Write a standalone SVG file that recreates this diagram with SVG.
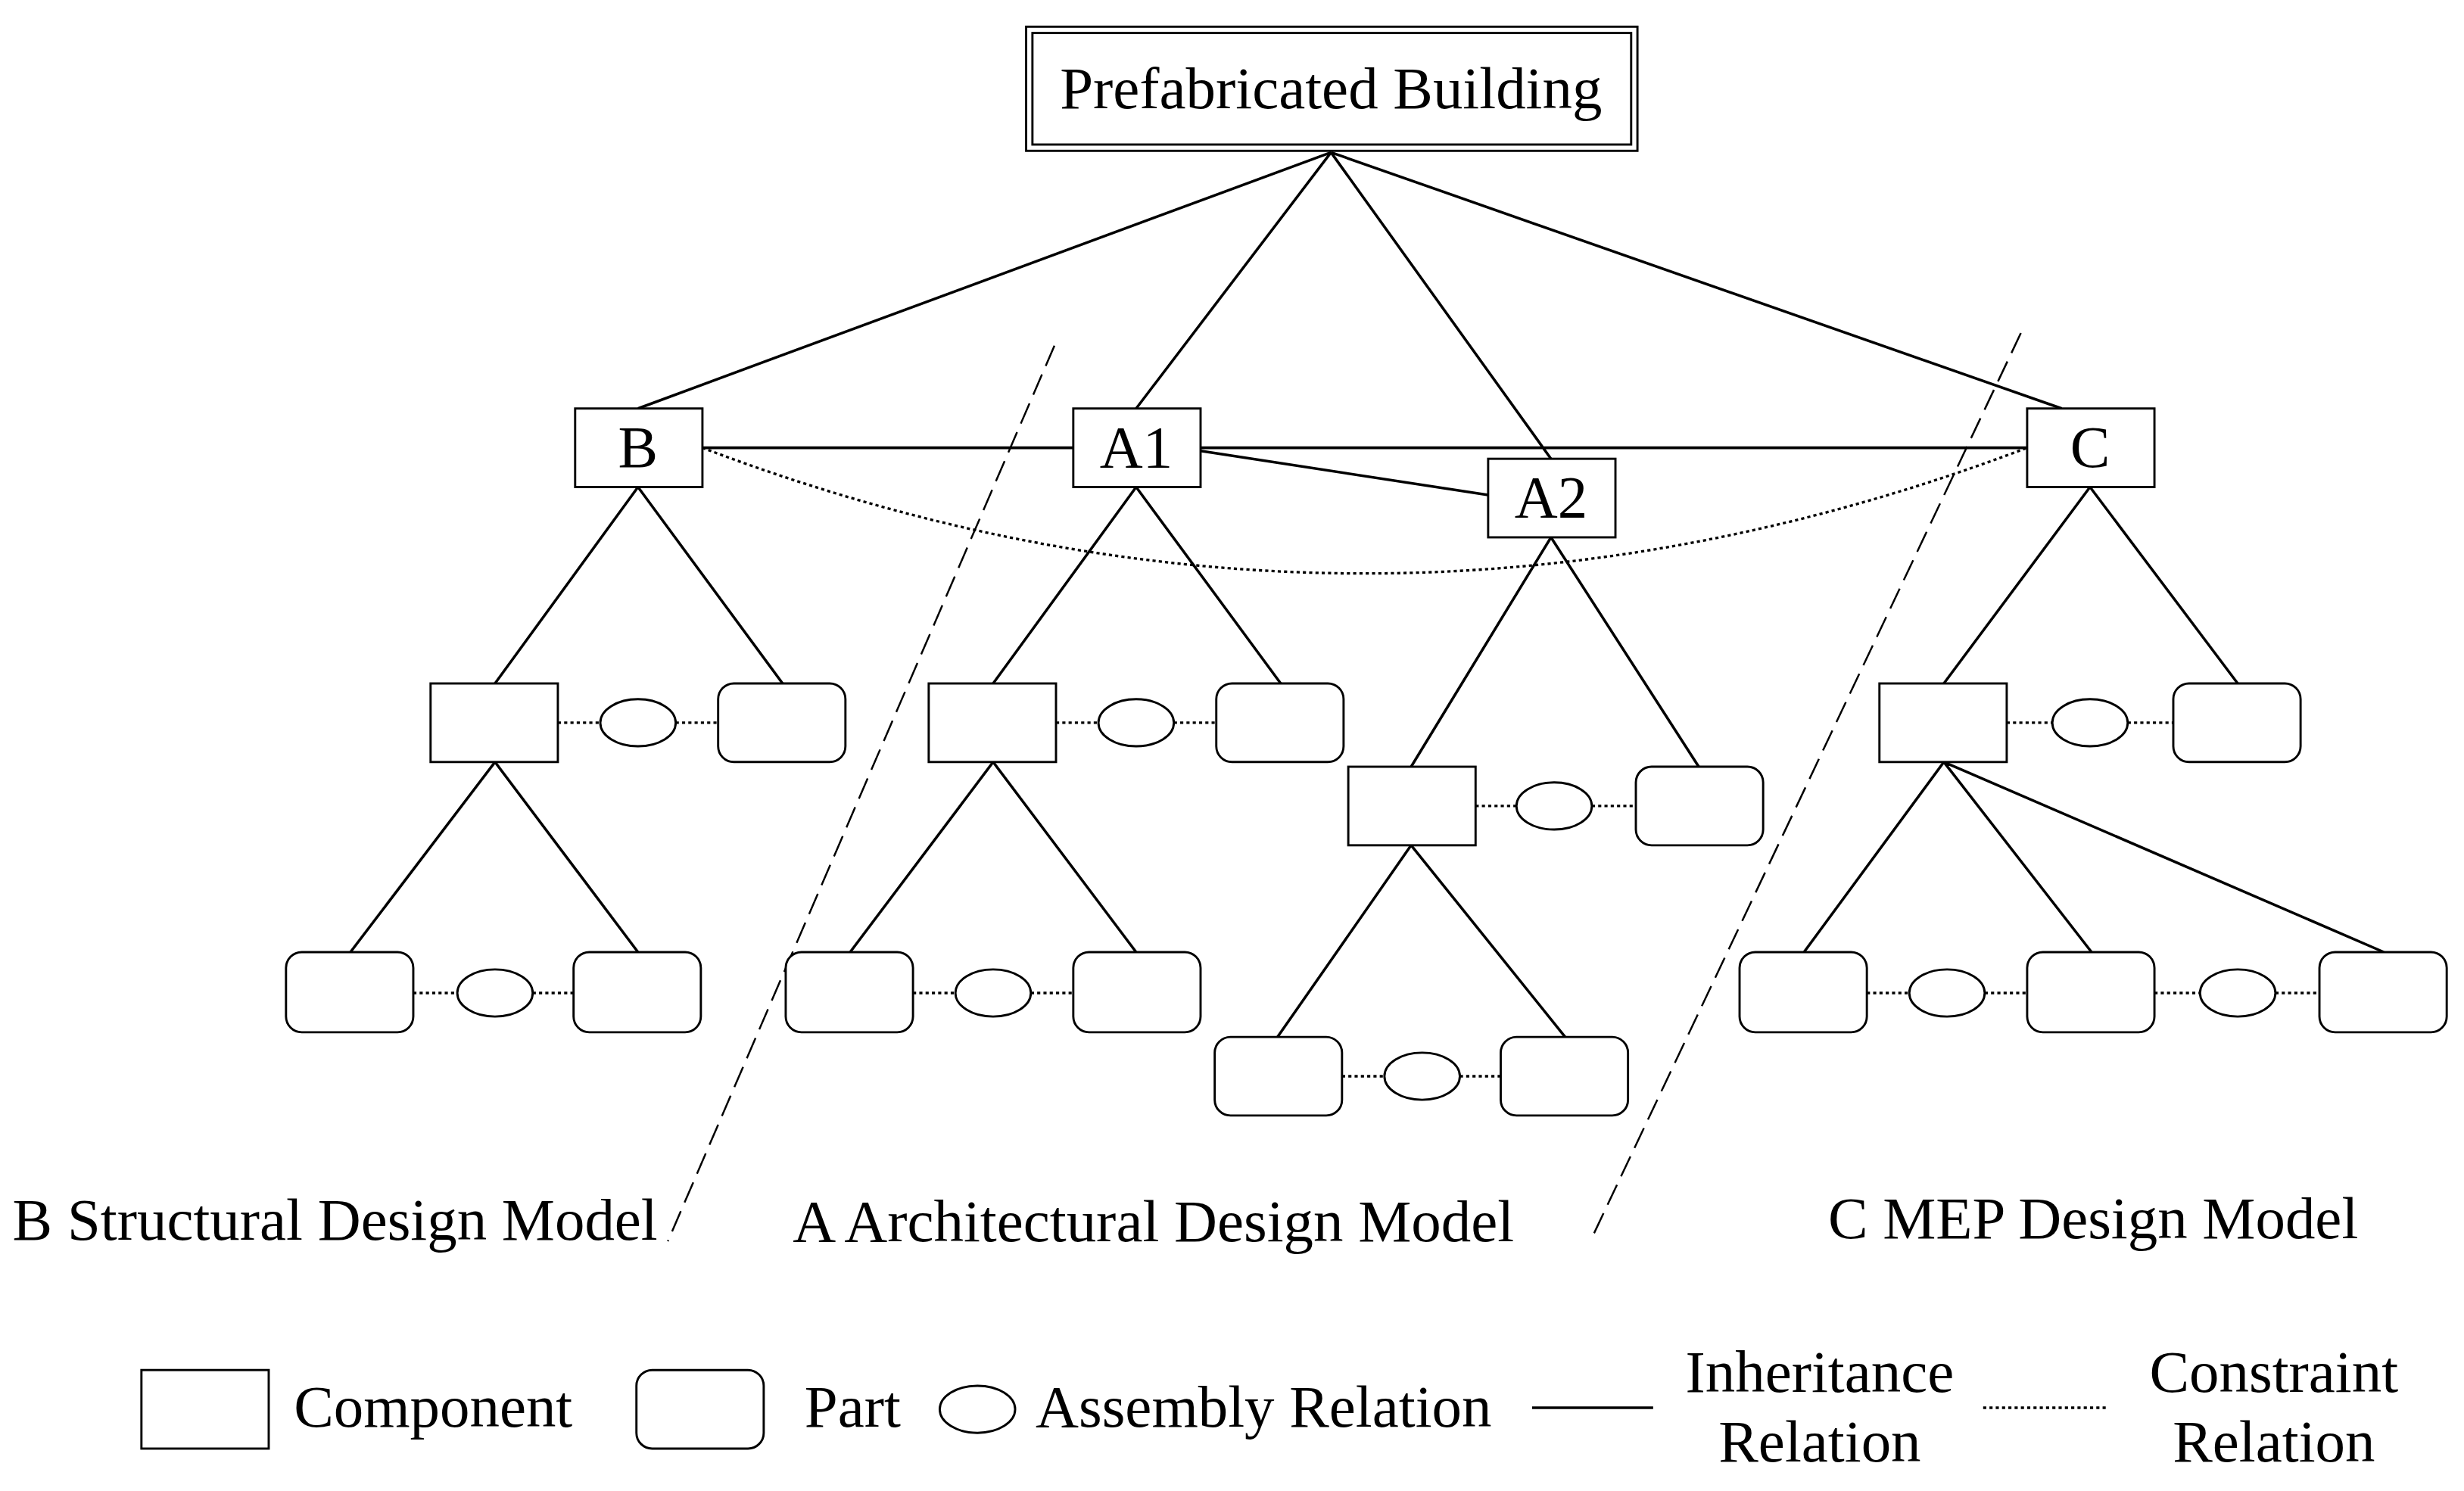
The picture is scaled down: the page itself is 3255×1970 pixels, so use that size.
<svg xmlns="http://www.w3.org/2000/svg" width="3255" height="1970" viewBox="0 0 3255 1970">
<style>
.c{fill:#fff;stroke:#000;stroke-width:1.4}
.l{stroke:#000;stroke-width:1.7;fill:none}
.d{stroke:#000;stroke-width:1.6;fill:none;stroke-dasharray:2 2}
.s{stroke:#000;stroke-width:1.2;fill:none;stroke-dasharray:14 6}
text{font-family:"Liberation Serif","Times New Roman",serif;font-size:38px;fill:#000}
</style>
<rect width="3255" height="1970" fill="#fff"/>
<g transform="scale(2.0759)">
<g id="connectors">
<path class="l" d="M847,97L406,260M847,97L723,260M847,97L987,292M847,97L1312,260M447,285H683M764,285H1290M764,287L947,315"/>
<path class="d" d="M447,285Q868,445 1290,285"/>
<path class="l" d="M406,310L315,435M406,310L498,435M723,310L632,435M723,310L815,435M987,342L898,488M987,342L1081,488M1330,310L1237,435M1330,310L1424,435"/>
<path class="l" d="M315,485L223,606M315,485L406,606M632,485L541,606M632,485L723,606M898,538L813,660M898,538L996,660M1237,485L1148,606M1237,485L1331,606M1237,485L1517,606"/>
<path class="d" d="M355,460H382M430,460H457M672,460H699M747,460H774M939,513H965M1013,513H1041M1277,460H1306M1354,460H1383M263,632H291M339,632H365M581,632H608M656,632H683M854,685H881M929,685H955M1188,632H1215M1263,632H1290M1371,632H1400M1448,632H1476"/>
<path class="s" d="M671,220L425,790M1286,212L1012,790"/>
</g>
<g id="root"><rect class="c" x="653" y="17" width="389" height="79"/><rect class="c" x="657" y="21" width="381" height="71"/><text x="847" y="69" text-anchor="middle">Prefabricated Building</text></g>
<g id="B"><rect class="c" x="366" y="260" width="81" height="50"/><text x="406" y="297" text-anchor="middle" font-size="39">B</text></g>
<g id="A1"><rect class="c" x="683" y="260" width="81" height="50"/><text x="723" y="297" text-anchor="middle" font-size="39">A1</text></g>
<g id="A2"><rect class="c" x="947" y="292" width="81" height="50"/><text x="987" y="329" text-anchor="middle" font-size="39">A2</text></g>
<g id="C"><rect class="c" x="1290" y="260" width="81" height="50"/><text x="1330" y="297" text-anchor="middle" font-size="39">C</text></g>
<g id="level2">
<rect class="c" x="274" y="435" width="81" height="50"/><ellipse class="c" cx="406" cy="460" rx="24" ry="15"/><rect class="c" x="457" y="435" width="81" height="50" rx="10"/>
<rect class="c" x="591" y="435" width="81" height="50"/><ellipse class="c" cx="723" cy="460" rx="24" ry="15"/><rect class="c" x="774" y="435" width="81" height="50" rx="10"/>
<rect class="c" x="858" y="488" width="81" height="50"/><ellipse class="c" cx="989" cy="513" rx="24" ry="15"/><rect class="c" x="1041" y="488" width="81" height="50" rx="10"/>
<rect class="c" x="1196" y="435" width="81" height="50"/><ellipse class="c" cx="1330" cy="460" rx="24" ry="15"/><rect class="c" x="1383" y="435" width="81" height="50" rx="10"/>
</g>
<g id="level3">
<rect class="c" x="182" y="606" width="81" height="51" rx="10"/><ellipse class="c" cx="315" cy="632" rx="24" ry="15"/><rect class="c" x="365" y="606" width="81" height="51" rx="10"/>
<rect class="c" x="500" y="606" width="81" height="51" rx="10"/><ellipse class="c" cx="632" cy="632" rx="24" ry="15"/><rect class="c" x="683" y="606" width="81" height="51" rx="10"/>
<rect class="c" x="773" y="660" width="81" height="50" rx="10"/><ellipse class="c" cx="905" cy="685" rx="24" ry="15"/><rect class="c" x="955" y="660" width="81" height="50" rx="10"/>
<rect class="c" x="1107" y="606" width="81" height="51" rx="10"/><ellipse class="c" cx="1239" cy="632" rx="24" ry="15"/><rect class="c" x="1290" y="606" width="81" height="51" rx="10"/><ellipse class="c" cx="1424" cy="632" rx="24" ry="15"/><rect class="c" x="1476" y="606" width="81" height="51" rx="10"/>
</g>
<g id="labels">
<text x="8" y="789">B Structural Design Model</text>
<text x="734" y="790" text-anchor="middle">A Architectural Design Model</text>
<text x="1332" y="788" text-anchor="middle">C MEP Design Model</text>
</g>
<g id="legend">
<rect class="c" x="90" y="872" width="81" height="50"/><text x="187" y="908">Component</text>
<rect class="c" x="405" y="872" width="81" height="50" rx="10"/><text x="512" y="908">Part</text>
<ellipse class="c" cx="622" cy="897" rx="24" ry="15"/><text x="659" y="908">Assembly Relation</text>
<path class="l" d="M975,896H1052"/><text x="1158" y="886" text-anchor="middle">Inheritance</text><text x="1158" y="930" text-anchor="middle">Relation</text>
<path class="d" d="M1262,896H1340"/><text x="1447" y="886" text-anchor="middle">Constraint</text><text x="1447" y="930" text-anchor="middle">Relation</text>
</g>
</g>
</svg>
